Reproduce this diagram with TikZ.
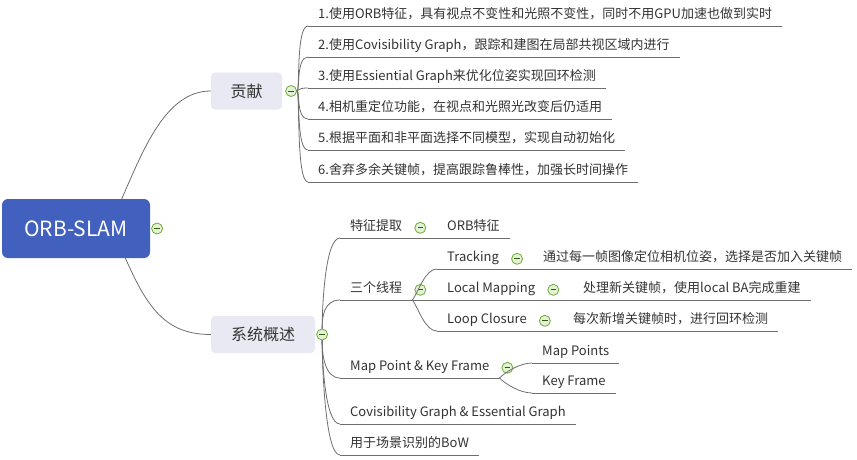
\documentclass[tikz,border=0pt]{standalone}
\usepackage{fontspec}
\setmainfont{Noto Sans CJK SC}
\usetikzlibrary{positioning}

\definecolor{rootblue}{RGB}{66,96,190}
\definecolor{boxfill}{RGB}{232,233,243}
\definecolor{txtgray}{RGB}{51,51,51}
\definecolor{linkgray}{RGB}{110,110,110}
\definecolor{foldgreen}{RGB}{108,172,56}
\definecolor{foldfill}{RGB}{226,242,210}

\tikzset{
  rootbox/.style={rectangle, rounded corners=6pt, fill=rootblue, text=white,
    minimum width=148pt, minimum height=59pt, font=\fontsize{21}{24}\selectfont},
  topicbox/.style={rectangle, rounded corners=4pt, fill=boxfill, text=txtgray,
    minimum height=37pt, font=\fontsize{16}{19}\selectfont},
  leaf/.style={anchor=south west, inner xsep=10pt, inner ysep=4pt, text height=9pt,
    text depth=3pt, text=txtgray, font=\fontsize{13}{15}\selectfont},
  fold/.style={circle, draw=foldgreen, fill=foldfill, line width=0.8pt, minimum size=11pt,
    inner sep=0pt, path picture={\draw[foldgreen!50!black, line width=0.8pt]
      ([xshift=-2.8pt]path picture bounding box.center) -- ([xshift=2.8pt]path picture bounding box.center);}},
  link/.style={draw=linkgray, line width=0.8pt},
}

\begin{document}
\begin{tikzpicture}[x=1pt, y=-1pt]
        \useasboundingbox (0,0) rectangle (857,459);

        % root and main topics
        \node[rootbox] (root) at (76,228.5) {ORB-SLAM};
        \node[fold, right=1pt of root.east] (rootfold) {};
        \node[topicbox, minimum width=71pt] (gx) at (246.5,91) {贡献};
        \node[fold, right=3pt of gx.east] (gxfold) {};
        \node[topicbox, minimum width=104pt] (gs) at (263,334.5) {系统概述};
        \node[fold, right=1pt of gs.east] (gsfold) {};

        \draw[link] (root.33) .. controls +(22,-50) and +(-45,0) .. (gx.west);
        \draw[link] (root.-31) .. controls +(22,50) and +(-45,0) .. (gs.west);

        % 贡献
        \node[leaf] (g1) at (308,26) {1.使用ORB特征，具有视点不变性和光照不变性，同时不用GPU加速也做到实时};
        \node[leaf] (g2) at (308,57) {2.使用Covisibility Graph，跟踪和建图在局部共视区域内进行};
        \node[leaf] (g3) at (308,88) {3.使用Essiential Graph来优化位姿实现回环检测};
        \node[leaf] (g4) at (308,119) {4.相机重定位功能，在视点和光照光改变后仍适用};
        \node[leaf] (g5) at (308,150) {5.根据平面和非平面选择不同模型，实现自动初始化};
        \node[leaf] (g6) at (308,182) {6.舍弃多余关键帧，提高跟踪鲁棒性，加强长时间操作};

        \foreach \n in {g1,g2,g3,g4,g5,g6}
          \draw[link] (gxfold.east) .. controls +(3,0) and +(-12,0) .. (\n.south west);

        % 系统概述
        \node[leaf] (tz) at (340,238) {特征提取};
        \node[fold, right=2pt of tz.east] (tzfold) {};
        \node[leaf] (orb) at (437,238) {ORB特征};
        \node[leaf] (xc) at (340,300) {三个线程};
        \node[fold, right=2pt of xc.east] (xcfold) {};
        \node[leaf] (trk) at (437,269) {Tracking};
        \node[fold, right=2pt of trk.east] (trkfold) {};
        \node[leaf] (trkd) at (533,269) {通过每一帧图像定位相机位姿，选择是否加入关键帧};
        \node[leaf] (lm) at (437,300) {Local Mapping};
        \node[fold, right=2pt of lm.east] (lmfold) {};
        \node[leaf] (lmd) at (573,300) {处理新关键帧，使用local BA完成重建};
        \node[leaf] (lc) at (437,331) {Loop Closure};
        \node[fold, right=2pt of lc.east] (lcfold) {};
        \node[leaf] (lcd) at (563,331) {每次新增关键帧时，进行回环检测};
        \node[leaf] (mk) at (340,378) {Map Point \& Key Frame};
        \node[fold, right=2pt of mk.east] (mkfold) {};
        \node[leaf] (mp) at (532,363) {Map Points};
        \node[leaf] (kf) at (532,393) {Key Frame};
        \node[leaf] (cg) at (340,424) {Covisibility Graph \& Essential Graph};
        \node[leaf] (bow) at (340,455) {用于场景识别的BoW};

        \foreach \n in {tz,xc}
          \draw[link] (gsfold.north) .. controls +(0,-12) and +(-16,0) .. (\n.south west);
        \foreach \n in {mk,cg,bow}
          \draw[link] (gsfold.south) .. controls +(0,12) and +(-16,0) .. (\n.south west);

        \draw[link] (tz.south east) -- (orb.south west);
        \draw[link] (xc.south east) .. controls +(6,-8) and +(-12,0) .. (trk.south west);
        \draw[link] (xc.south east) -- (lm.south west);
        \draw[link] (xc.south east) .. controls +(6,8) and +(-12,0) .. (lc.south west);
        \draw[link] (trk.south east) -- (trkd.south west);
        \draw[link] (lm.south east) -- (lmd.south west);
        \draw[link] (lc.south east) -- (lcd.south west);
        \draw[link] (mk.south east) .. controls +(6,-6) and +(-12,0) .. (mp.south west);
        \draw[link] (mk.south east) .. controls +(6,6) and +(-12,0) .. (kf.south west);

        % underlines
        \foreach \n in {g1,g2,g3,g4,g5,g6,tz,orb,xc,trk,trkd,lm,lmd,lc,lcd,mk,mp,kf,cg,bow}
          \draw[link] (\n.south west) -- (\n.south east);
\end{tikzpicture}
\end{document}
